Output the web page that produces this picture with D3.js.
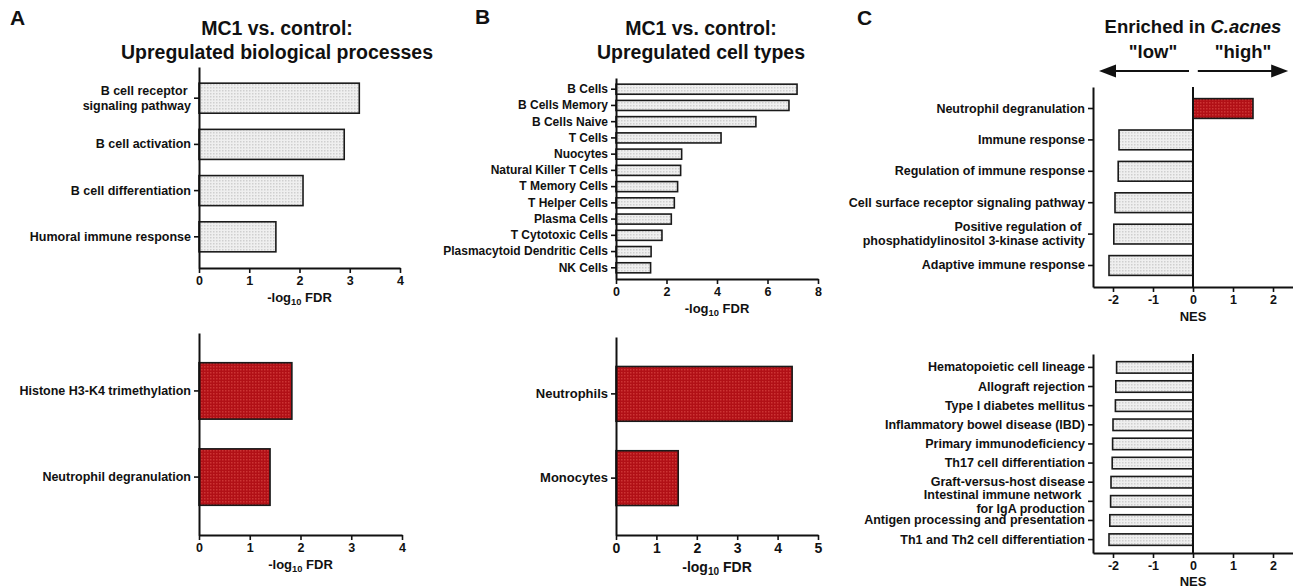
<!DOCTYPE html>
<html>
<head>
<meta charset="utf-8">
<style>
body { margin: 0; background: #fff; }
text { font-family: "Liberation Sans", Arial, sans-serif; font-weight: bold; fill: #111; }
</style>
</head>
<body>
<script src="https://cdn.jsdelivr.net/npm/d3@7"></script>
<script>

// panel A: GO biological processes, MC1 vs control
var bioUpLabels = ["B cell receptor \nsignaling pathway", "B cell activation", "B cell differentiation", "Humoral immune response"];
var bioUpValues = [3.19, 2.89, 2.07, 1.53];
var bioRedLabels = ["Histone H3-K4 trimethylation", "Neutrophil degranulation"];
var bioRedValues = [1.83, 1.40];

// panel B: cell types
var cellUpLabels = ["B Cells", "B Cells Memory", "B Cells Naive", "T Cells", "Nuocytes", "Natural Killer T Cells",
  "T Memory Cells", "T Helper Cells", "Plasma Cells", "T Cytotoxic Cells", "Plasmacytoid Dendritic Cells", "NK Cells"];
var cellUpValues = [7.17, 6.85, 5.54, 4.16, 2.60, 2.56, 2.44, 2.31, 2.19, 1.82, 1.39, 1.37];
var cellRedLabels = ["Neutrophils", "Monocytes"];
var cellRedValues = [4.36, 1.54];

// panel C: NES, C.acnes high vs low
var goNesLabels = ["Neutrophil degranulation", "Immune response", "Regulation of immune response",
  "Cell surface receptor signaling pathway", "Positive regulation of \nphosphatidylinositol 3-kinase activity",
  "Adaptive immune response"];
var goNesValues = [1.50, -1.85, -1.87, -1.95, -1.98, -2.10];
var keggNesLabels = ["Hematopoietic cell lineage", "Allograft rejection", "Type I diabetes mellitus",
  "Inflammatory bowel disease (IBD)", "Primary immunodeficiency", "Th17 cell differentiation",
  "Graft-versus-host disease", "Intestinal immune network \nfor IgA production",
  "Antigen processing and presentation", "Th1 and Th2 cell differentiation"];
var keggNesValues = [-1.91, -1.93, -1.94, -2.00, -2.01, -2.02, -2.05, -2.06, -2.08, -2.10];

var ticksA = [0, 1, 2, 3, 4];
var ticksB = [0, 2, 4, 6, 8];
var ticksB2 = [0, 1, 2, 3, 4, 5];
var ticksNES = [-2, -1, 0, 1, 2];

var width = 1293, height = 588;

var svg = d3.select("body").append("svg")
    .attr("width", width)
    .attr("height", height);

// dotted bar textures
var defs = svg.append("defs");
function dotPattern(id, base, dot) {
  var p = defs.append("pattern")
      .attr("id", id)
      .attr("patternUnits", "userSpaceOnUse")
      .attr("width", 3)
      .attr("height", 3);
  p.append("rect").attr("width", 3).attr("height", 3).attr("fill", base);
  p.append("rect").attr("width", 1.5).attr("height", 1.5).attr("fill", dot);
}
dotPattern("grayDots", "#efefef", "#cfcfcf");
dotPattern("redDots", "#b11016", "#cc3434");

var GRAY = "url(#grayDots)", RED = "url(#redDots)";

function drawBars(o) {
  var x = d3.scaleLinear().domain(o.domain).range([o.x0, o.x1]);
  var y = d3.scaleBand()
      .domain(o.labels)
      .range([o.y0, o.y1])
      .paddingInner(o.pad)
      .paddingOuter(o.pad);

  var g = svg.append("g");

  g.selectAll("rect")
      .data(o.values)
      .enter().append("rect")
      .attr("x", function(d) { return x(Math.min(0, d)); })
      .attr("width", function(d) { return Math.abs(x(d) - x(0)); })
      .attr("y", function(d, i) { return y(o.labels[i]); })
      .attr("height", y.bandwidth())
      .attr("fill", o.fill)
      .attr("stroke", "#1a1a1a")
      .attr("stroke-width", 1.6);

  var xa = g.append("g")
      .attr("transform", "translate(0," + o.y1 + ")")
      .call(d3.axisBottom(x).tickValues(o.ticks).tickSize(5).tickSizeOuter(0)
        .tickFormat(function(d) { return String(d); }));
  xa.selectAll("text").style("font-size", (o.tfs || 12.5) + "px").attr("y", 8);

  var ya = g.append("g")
      .attr("transform", "translate(" + o.x0 + ",0)")
      .call(d3.axisLeft(y).tickSize(5).tickSizeOuter(0));
  ya.selectAll("text").style("font-size", o.fs + "px");

  // two-line labels
  ya.selectAll(".tick text").each(function(d) {
    var lines = d.split("\n");
    if (lines.length < 2) return;
    var t = d3.select(this).text(null).attr("dy", null);
    lines.forEach(function(l, i) {
      t.append("tspan")
          .attr("x", -8)
          .attr("y", (i - (lines.length - 1) / 2) * o.lh)
          .attr("dy", "0.35em")
          .style("white-space", "pre")
          .text(l);
    });
  });

  [xa, ya].forEach(function(a) {
    a.select(".domain").attr("stroke", "#111").attr("stroke-width", 2);
    a.selectAll(".tick line").attr("stroke", "#111").attr("stroke-width", 1.6);
  });

  if (o.zeroLine) {
    g.append("line")
        .attr("x1", x(0)).attr("x2", x(0))
        .attr("y1", o.y0).attr("y2", o.y1)
        .attr("stroke", "#111")
        .attr("stroke-width", 2);
  }

  // axis title
  var cx = (o.x0 + o.x1) / 2;
  if (o.titleX != null) cx = x(o.titleX);
  var fsT = o.tfs || 13;
  var t = g.append("text")
      .attr("x", cx)
      .attr("y", o.y1 + (o.tdy || 34))
      .attr("text-anchor", "middle")
      .style("font-size", fsT + "px");
  if (o.title == "FDR") {
    t.append("tspan").text("-log");
    t.append("tspan").attr("dy", 3).style("font-size", (fsT * 0.72) + "px").text("10");
    t.append("tspan").attr("dy", -3).text(" FDR");
  } else {
    t.text(o.title);
  }
  return x;
}

// A
drawBars({labels: bioUpLabels, values: bioUpValues, domain: [0, 4], ticks: ticksA,
  x0: 199, x1: 400, y0: 67, y1: 268, pad: 0.35, fill: GRAY, fs: 12.5, lh: 15, title: "FDR"});
drawBars({labels: bioRedLabels, values: bioRedValues, domain: [0, 4], ticks: ticksA,
  x0: 199, x1: 402, y0: 333, y1: 535, pad: 0.345, fill: RED, fs: 12.5, lh: 15, title: "FDR"});

// B
drawBars({labels: cellUpLabels, values: cellUpValues, domain: [0, 8], ticks: ticksB,
  x0: 616, x1: 818, y0: 78, y1: 279, pad: 0.38, fill: GRAY, fs: 12, lh: 15, title: "FDR"});
drawBars({labels: cellRedLabels, values: cellRedValues, domain: [0, 5], ticks: ticksB2,
  x0: 616, x1: 818, y0: 337, y1: 535, pad: 0.35, fill: RED, fs: 13, lh: 15, title: "FDR",
  tfs: 14, tdy: 37});

// C
var nesFill = function(d) { return d > 0 ? RED : GRAY; };
var xC = drawBars({labels: goNesLabels, values: goNesValues, domain: [-2.5, 2.5], ticks: ticksNES,
  x0: 1093, x1: 1293, y0: 87, y1: 287, pad: 0.37, fill: nesFill, fs: 12.5, lh: 14,
  title: "NES", titleX: 0, zeroLine: true});
drawBars({labels: keggNesLabels, values: keggNesValues, domain: [-2.5, 2.5], ticks: ticksNES,
  x0: 1093, x1: 1293, y0: 354, y1: 553, pad: 0.4, fill: nesFill, fs: 12.5, lh: 14,
  title: "NES", titleX: 0, zeroLine: true, tdy: 33});

// panel letters
[["A", 10, 25], ["B", 475, 24], ["C", 857, 25]].forEach(function(p) {
  svg.append("text").attr("x", p[1]).attr("y", p[2]).style("font-size", "21px").text(p[0]);
});

// panel titles
function title(cx, lines) {
  lines.forEach(function(l, i) {
    svg.append("text")
        .attr("x", cx)
        .attr("y", 35 + i * 24)
        .attr("text-anchor", "middle")
        .style("font-size", "19.5px")
        .text(l);
  });
}
title(277, ["MC1 vs. control:", "Upregulated biological processes"]);
title(701, ["MC1 vs. control:", "Upregulated cell types"]);

// C header with arrows
var hdr = svg.append("text")
    .attr("x", xC(0))
    .attr("y", 33)
    .attr("text-anchor", "middle")
    .style("font-size", "18.5px");
hdr.append("tspan").text("Enriched in ");
hdr.append("tspan").style("font-style", "italic").text("C.acnes");

svg.append("text").attr("x", xC(-1)).attr("y", 58).attr("text-anchor", "middle")
    .style("font-size", "18.5px").text("\"low\"");
svg.append("text").attr("x", xC(1.25)).attr("y", 58).attr("text-anchor", "middle")
    .style("font-size", "18.5px").text("\"high\"");

var ay = 71;
function arrow(from, to) {
  var dir = to > from ? 1 : -1;
  svg.append("line")
      .attr("x1", from).attr("x2", to - dir * 10)
      .attr("y1", ay).attr("y2", ay)
      .attr("stroke", "#111").attr("stroke-width", 2);
  svg.append("path")
      .attr("d", "M" + to + "," + ay + "L" + (to - dir * 17) + "," + (ay - 6.5) +
                 "L" + (to - dir * 17) + "," + (ay + 6.5) + "Z")
      .attr("fill", "#111");
}
arrow(xC(-0.1), xC(-2.35));
arrow(xC(0.12), xC(2.38));

</script>
</body>
</html>
